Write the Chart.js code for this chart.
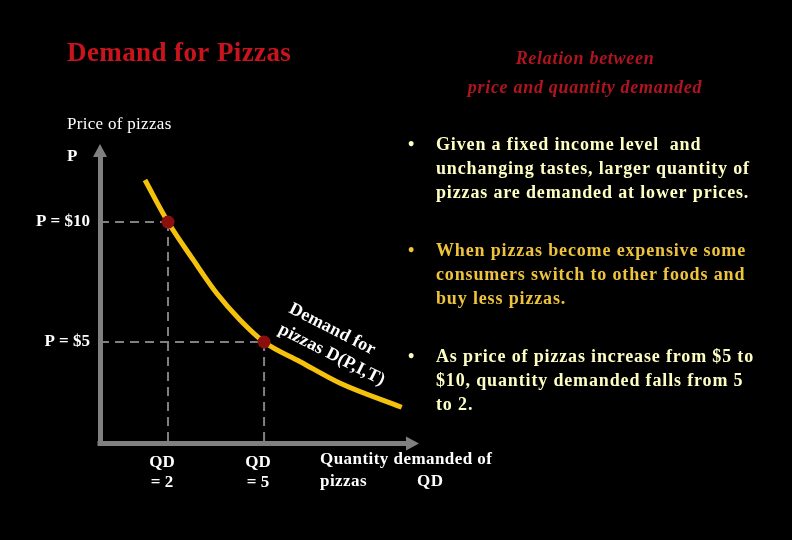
<!DOCTYPE html>
<html>
<head>
<meta charset="utf-8">
<title>Demand for Pizzas</title>
<script src="https://cdn.jsdelivr.net/npm/chart.js@4"></script>
<style>
    html, body { margin: 0; padding: 0; background: #000; }
    #demandChart { display: block; background: #000; }
</style>
</head>
<body>
<canvas id="demandChart" width="792" height="540"></canvas>
<script>
// DATA
const curveQuantity = [1.28, 2.0, 2.79, 3.52, 4.25, 5.0, 6.13, 7.38, 9.3];
const curvePrice = [11.75, 10.0, 8.42, 7.03, 5.92, 5.0, 4.18, 3.28, 2.28];
const markQuantity = [2, 5];
const markPrice = [10, 5];
const priceTickLabels = ['P = $10', 'P = $5'];
const quantityTickLabels = [['QD', '= 2'], ['QD', '= 5']];

const bullets = [
    { color: '#ffffc4', lines: ['Given a fixed income level  and', 'unchanging tastes, larger quantity of', 'pizzas are demanded at lower prices.'], y: 150 },
    { color: '#eec43c', lines: ['When pizzas become expensive some', 'consumers switch to other foods and', 'buy less pizzas.'], y: 256 },
    { color: '#ffffc4', lines: ['As price of pizzas increase from $5 to', '$10, quantity demanded falls from 5', 'to 2.'], y: 362 }
];

const serif = "'Liberation Serif', 'DejaVu Serif', serif";
const axisColor = '#808080';
const xMin = -0.125, xMax = 9.59;
const yMin = 0.77, yMax = 12.92;

// guide lines from the axes to each marked point
const guideSets = [];
markQuantity.forEach((q, i) => {
    const p = markPrice[i];
    guideSets.push({ data: [{ x: xMin, y: p }, { x: q, y: p }] });
    guideSets.push({ data: [{ x: q, y: p }, { x: q, y: yMin }] });
});

function spaced(c, px) {
    if ('letterSpacing' in c) c.letterSpacing = px + 'px';
}

const slideText = {
    id: 'slideText',
    afterDraw(chart) {
        const c = chart.ctx;
        const { left, right, top, bottom } = chart.chartArea;
        c.save();

        // axis arrow heads + corner
        c.fillStyle = axisColor;
        c.beginPath();
        c.moveTo(left, top - 8); c.lineTo(left - 7, top + 5); c.lineTo(left + 7, top + 5);
        c.closePath(); c.fill();
        c.beginPath();
        c.moveTo(right + 8, bottom); c.lineTo(right - 5, bottom - 7); c.lineTo(right - 5, bottom + 7);
        c.closePath(); c.fill();
        c.fillRect(left - 2.5, bottom - 2.5, 5, 5);

        c.textBaseline = 'alphabetic';
        c.textAlign = 'left';

        // titles
        c.fillStyle = '#c8141c';
        c.font = 'bold 27px ' + serif;
        spaced(c, 0.4);
        c.fillText('Demand for Pizzas', 67, 61);

        c.fillStyle = '#b01420';
        c.font = 'italic bold 18px ' + serif;
        spaced(c, 0.7);
        c.textAlign = 'center';
        c.fillText('Relation between', 585, 64);
        c.fillText('price and quantity demanded', 585, 93);

        // axis titles
        c.textAlign = 'left';
        c.fillStyle = '#fff';
        c.font = '17px ' + serif;
        spaced(c, 0.3);
        c.fillText('Price of pizzas', 67, 129);
        c.font = 'bold 17px ' + serif;
        c.fillText('P', 67, 161);
        spaced(c, 0.45);
        c.fillText('Quantity demanded of', 320, 464);
        c.fillText('pizzas', 320, 486);
        c.fillText('QD', 417, 486);

        // curve label, rotated along the curve
        c.save();
        c.translate(288, 312);
        c.rotate(27 * Math.PI / 180);
        c.font = 'bold 18px ' + serif;
        spaced(c, 0.2);
        c.fillText('Demand for', 0, 0);
        c.fillText('pizzas D(P,I,T)', 0, 23);
        c.restore();

        // bullet notes
        c.font = 'bold 18px ' + serif;
        bullets.forEach(b => {
            c.fillStyle = b.color;
            spaced(c, 0);
            c.fillText('\u2022', 408, b.y);
            spaced(c, 0.85);
            b.lines.forEach((line, i) => c.fillText(line, 436, b.y + i * 24));
        });

        c.restore();
    }
};

const ctx = document.getElementById('demandChart').getContext('2d');
const demandChart = new Chart(ctx, {
    type: 'line',
    data: {
        datasets: [{
            type: 'scatter',
            data: markQuantity.map((q, i) => ({ x: q, y: markPrice[i] })),
            pointRadius: 6.5,
            pointBackgroundColor: '#8c0f0f',
            pointBorderColor: '#8c0f0f',
            pointBorderWidth: 0
        }, {
            data: curveQuantity.map((q, i) => ({ x: q, y: curvePrice[i] })),
            borderColor: '#f4c20c',
            borderWidth: 5,
            cubicInterpolationMode: 'monotone',
            pointRadius: 0,
            borderCapStyle: 'butt'
        }, ...guideSets.map(g => ({
            data: g.data,
            borderColor: axisColor,
            borderWidth: 2,
            borderDash: [9, 6],
            pointRadius: 0
        }))]
    },
    options: {
        responsive: false,
        animation: false,
        devicePixelRatio: 1,
        layout: { padding: { left: 30, right: 381, top: 152, bottom: 36.5 } },
        plugins: { legend: { display: false }, tooltip: { enabled: false } },
        scales: {
            x: {
                type: 'linear',
                min: xMin,
                max: xMax,
                grid: { display: false, drawTicks: false },
                border: { display: true, color: axisColor, width: 5 },
                afterBuildTicks: (scale) => { scale.ticks = markQuantity.map(v => ({ value: v })); },
                afterFit: (scale) => { scale.height = 60; },
                ticks: {
                    color: '#fff',
                    padding: 9,
                    labelOffset: -6,
                    maxRotation: 0,
                    font: { family: serif, size: 17, weight: 'bold', lineHeight: 1.18 },
                    callback: (v) => quantityTickLabels[markQuantity.indexOf(v)]
                }
            },
            y: {
                min: yMin,
                max: yMax,
                grid: { display: false, drawTicks: false },
                border: { display: true, color: axisColor, width: 5 },
                afterBuildTicks: (scale) => { scale.ticks = markPrice.map(v => ({ value: v })); },
                afterFit: (scale) => { scale.width = 70; },
                ticks: {
                    color: '#fff',
                    padding: 10,
                    font: { family: serif, size: 17, weight: 'bold' },
                    callback: (v) => priceTickLabels[markPrice.indexOf(v)]
                }
            }
        }
    },
    plugins: [slideText]
});
</script>
</body>
</html>
